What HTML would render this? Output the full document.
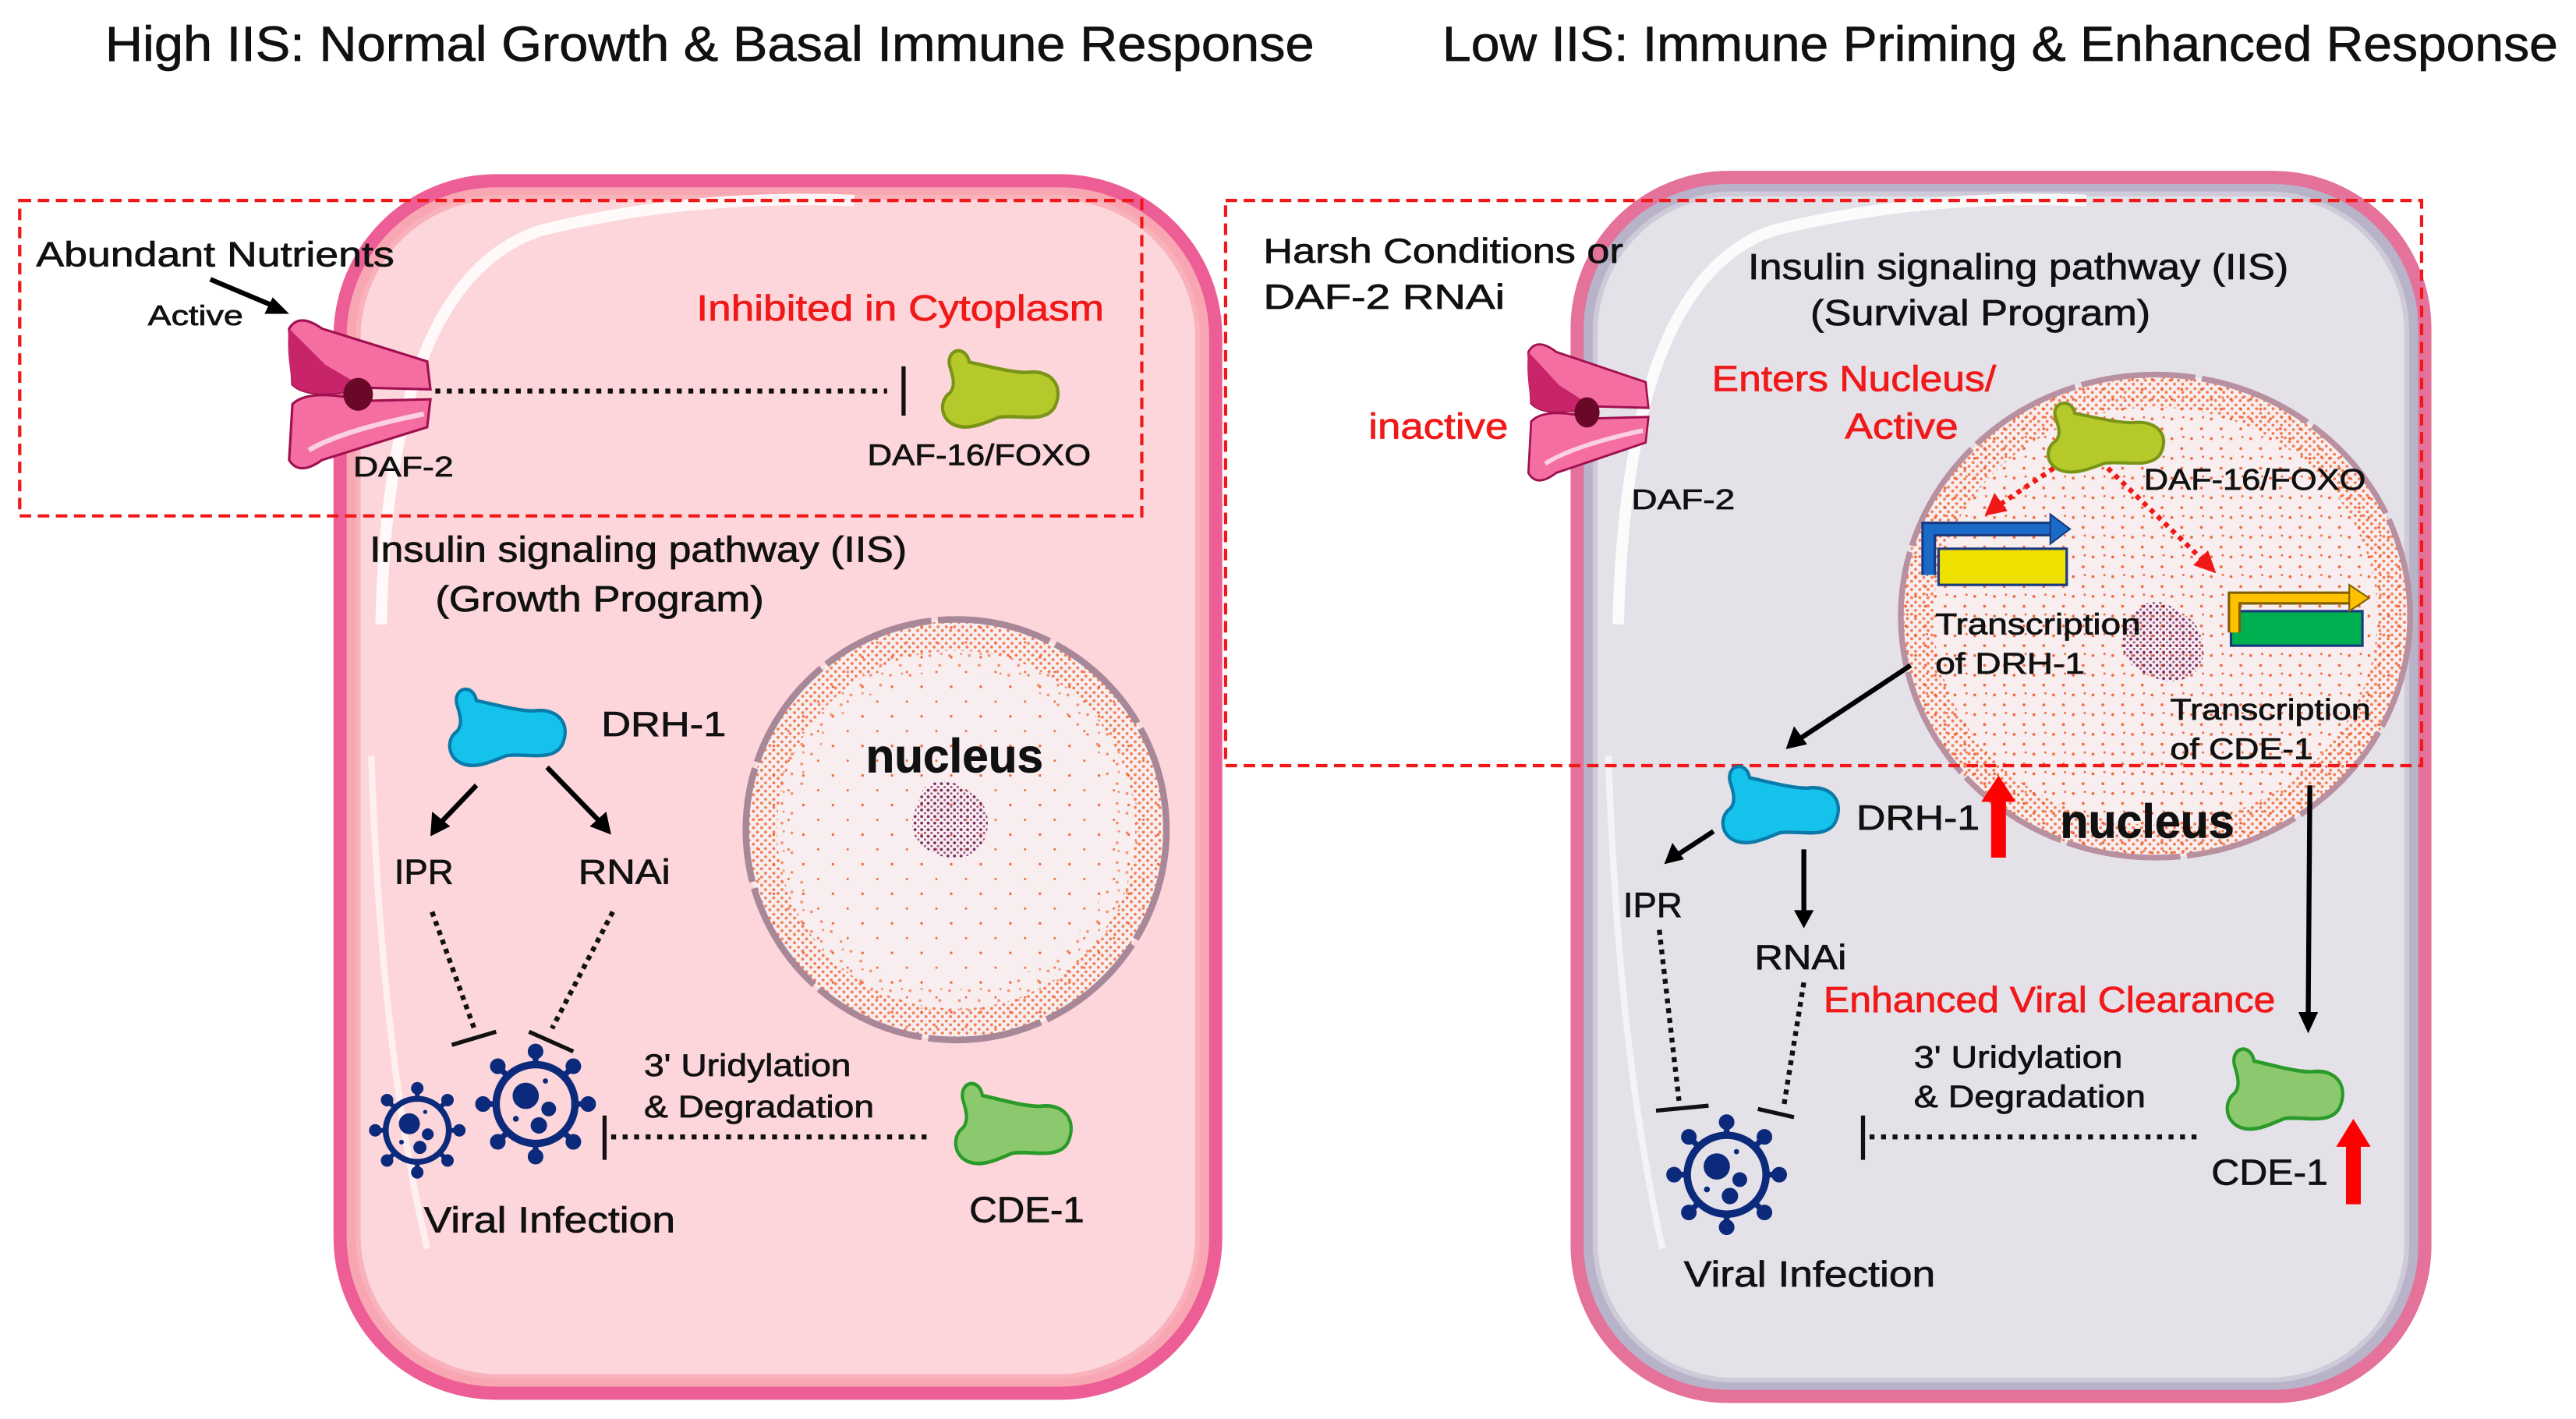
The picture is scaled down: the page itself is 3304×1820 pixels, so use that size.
<!DOCTYPE html>
<html><head><meta charset="utf-8"><style>
html,body{margin:0;padding:0;background:#fff}
svg{display:block}
text{font-family:"Liberation Sans","DejaVu Sans",sans-serif;fill:#111;stroke:#111;stroke-width:0.35}
</style></head><body>
<svg width="3304" height="1820" viewBox="0 0 1568 863.7" xmlns="http://www.w3.org/2000/svg">
<defs>
<pattern id="dots" width="12" height="12" patternUnits="userSpaceOnUse">
<circle cx="2" cy="3" r="0.9" fill="#f26a3a"/><circle cx="8" cy="9" r="0.9" fill="#f26a3a"/><circle cx="9" cy="2" r="0.7" fill="#f26a3a"/>
</pattern>
<pattern id="sparse" width="18" height="18" patternUnits="userSpaceOnUse">
<circle cx="3" cy="4" r="0.8" fill="#f26a3a"/><circle cx="12" cy="13" r="0.7" fill="#f26a3a"/>
</pattern>
<pattern id="dense" width="5" height="5" patternUnits="userSpaceOnUse">
<circle cx="1" cy="1.5" r="0.9" fill="#f0602a"/><circle cx="3.6" cy="3.8" r="0.9" fill="#f0602a"/>
</pattern>
<pattern id="pdots" width="4" height="4" patternUnits="userSpaceOnUse">
<circle cx="1" cy="1" r="0.9" fill="#7a2a60"/><circle cx="3" cy="3" r="0.7" fill="#9a4a80"/>
</pattern>
<g id="virus">
<circle r="24" fill="none" stroke="#0c2a7c" stroke-width="4.5"/>
<g stroke="#0c2a7c" stroke-width="3.5" fill="#0c2a7c">
<line x1="0" y1="-24" x2="0" y2="-31"/><circle cx="0" cy="-32" r="3"/>
<line x1="0" y1="24" x2="0" y2="31"/><circle cx="0" cy="32" r="3"/>
<line x1="-24" y1="0" x2="-31" y2="0"/><circle cx="-32" cy="0" r="3"/>
<line x1="24" y1="0" x2="31" y2="0"/><circle cx="32" cy="0" r="3"/>
<line x1="17" y1="17" x2="22" y2="22"/><circle cx="23" cy="23" r="3"/>
<line x1="-17" y1="17" x2="-22" y2="22"/><circle cx="-23" cy="23" r="3"/>
<line x1="17" y1="-17" x2="22" y2="-22"/><circle cx="23" cy="-23" r="3"/>
<line x1="-17" y1="-17" x2="-22" y2="-22"/><circle cx="-23" cy="-23" r="3"/>
</g>
<circle cx="-6" cy="-5" r="8" fill="#0c2a7c"/><circle cx="8" cy="3" r="4.5" fill="#0c2a7c"/><circle cx="2" cy="13" r="5" fill="#0c2a7c"/><circle cx="-12" cy="9" r="1.8" fill="#0c2a7c"/><circle cx="6" cy="-14" r="1.6" fill="#0c2a7c"/>
</g>
<g id="rec">
<path d="M-42,-40 Q-36,-50 -22,-40 L42,-20 L44,-3 L4,-4 Q-30,4 -40,-6 Z" fill="#f46ea2" stroke="#a01050" stroke-width="1.5"/>
<path d="M-42,-40 Q-44,-28 -40,-6 Q-30,4 4,-4 L-20,-18 Z" fill="#c8246a"/>
<path d="M-42,40 Q-36,50 -22,40 L42,20 L44,3 L4,4 Q-30,-4 -40,6 Z" fill="#f46ea2" stroke="#a01050" stroke-width="1.5"/>
<path d="M-30,34 Q-10,22 40,12" fill="none" stroke="#fbd0e0" stroke-width="3"/>
<ellipse cx="0" cy="0" rx="9" ry="10" fill="#6a0828"/>
</g>
<path id="blob" d="M8,10 C6,0 18,-2 20,8 C30,10 45,14 55,14 C70,12 78,22 72,34 C66,44 48,38 38,40 C28,44 18,48 10,44 C2,40 2,30 8,26 C12,22 10,16 8,10 Z"/>
</defs>

<text x="64" y="37" font-size="30" textLength="736" lengthAdjust="spacingAndGlyphs">High IIS: Normal Growth &amp; Basal Immune Response</text>
<text x="878" y="37" font-size="30" textLength="679" lengthAdjust="spacingAndGlyphs">Low IIS: Immune Priming &amp; Enhanced Response</text>

<!-- LEFT CELL -->
<rect x="207" y="110" width="533" height="738" rx="95" fill="#f8a7b2" stroke="#ee5e96" stroke-width="8"/>
<rect x="218" y="120" width="511" height="718" rx="86" fill="#fcd6da" stroke="#f9b2bc" stroke-width="3"/>
<path d="M232,380 Q236,170 330,140 Q420,118 520,122" fill="none" stroke="#fff" stroke-width="7" opacity="0.85"/>
<path d="M226,460 Q232,640 260,760" fill="none" stroke="#fff" stroke-width="4" opacity="0.6"/>

<rect x="12" y="122" width="683" height="192" fill="none" stroke="#f01818" stroke-width="2" stroke-dasharray="7,4"/>
<text x="22" y="162" font-size="21" textLength="218" lengthAdjust="spacingAndGlyphs">Abundant Nutrients</text>
<text x="90" y="198" font-size="17" textLength="58" lengthAdjust="spacingAndGlyphs">Active</text>
<line x1="128" y1="170" x2="166" y2="186" stroke="#000" stroke-width="3"/>
<polygon points="176,191 161,191 166,181" fill="#000"/>
<use href="#rec" transform="translate(218,240)"/>
<text x="215" y="290" font-size="17" textLength="61" lengthAdjust="spacingAndGlyphs">DAF-2</text>
<line x1="265" y1="238" x2="540" y2="238" stroke="#111" stroke-width="3" stroke-dasharray="3,4"/>
<line x1="550" y1="223" x2="550" y2="253" stroke="#111" stroke-width="2.5"/>
<use href="#blob" transform="translate(570,212) scale(1,1.05)" fill="#b5c92a" stroke="#7a9418" stroke-width="2"/>
<text x="528" y="283" font-size="18" textLength="136" lengthAdjust="spacingAndGlyphs">DAF-16/FOXO</text>
<text x="424" y="195" font-size="22" style="fill:#f01818;stroke:#f01818" textLength="248" lengthAdjust="spacingAndGlyphs">Inhibited in Cytoplasm</text>
<text x="225" y="342" font-size="22" textLength="327" lengthAdjust="spacingAndGlyphs">Insulin signaling pathway (IIS)</text>
<text x="265" y="372" font-size="22" textLength="200" lengthAdjust="spacingAndGlyphs">(Growth Program)</text>

<!-- left nucleus -->
<circle cx="582" cy="505" r="128" fill="#f8eef0"/>
<circle cx="582" cy="505" r="128" fill="url(#sparse)"/>
<circle cx="582" cy="505" r="118" fill="none" stroke="url(#dense)" stroke-width="18" opacity="0.8"/>
<circle cx="582" cy="505" r="104" fill="none" stroke="url(#dots)" stroke-width="14" opacity="0.7"/>
<circle cx="582" cy="505" r="128" fill="none" stroke="#a88898" stroke-width="4" stroke-dasharray="70,4"/>
<path d="M562,480 Q575,470 590,482 Q605,490 600,510 Q590,528 570,520 Q552,512 556,496 Z" fill="url(#pdots)"/>
<text x="527" y="470" font-size="29" font-weight="bold" textLength="108" lengthAdjust="spacingAndGlyphs">nucleus</text>

<use href="#blob" transform="translate(270,418) scale(1,1.05)" fill="#14c2ec" stroke="#0a7aa8" stroke-width="2"/>
<text x="366" y="448" font-size="21" textLength="76" lengthAdjust="spacingAndGlyphs">DRH-1</text>
<line x1="290" y1="478" x2="268" y2="501" stroke="#000" stroke-width="3"/>
<polygon points="262,509 263,494 274,503" fill="#000"/>
<line x1="333" y1="467" x2="365" y2="500" stroke="#000" stroke-width="3"/>
<polygon points="372,508 359,503 369,494" fill="#000"/>
<text x="240" y="538" font-size="21" textLength="36" lengthAdjust="spacingAndGlyphs">IPR</text>
<text x="352" y="538" font-size="21" textLength="56" lengthAdjust="spacingAndGlyphs">RNAi</text>
<line x1="263" y1="555" x2="289" y2="627" stroke="#111" stroke-width="3" stroke-dasharray="3,3"/>
<line x1="275" y1="636" x2="302" y2="628" stroke="#111" stroke-width="2.5"/>
<line x1="373" y1="555" x2="336" y2="626" stroke="#111" stroke-width="3" stroke-dasharray="3,3"/>
<line x1="322" y1="628" x2="349" y2="640" stroke="#111" stroke-width="2.5"/>
<use href="#virus" transform="translate(254,688) scale(0.8)"/>
<use href="#virus" transform="translate(326,672)"/>
<text x="258" y="750" font-size="22" textLength="153" lengthAdjust="spacingAndGlyphs">Viral Infection</text>
<text x="392" y="655" font-size="19" textLength="126" lengthAdjust="spacingAndGlyphs">3' Uridylation</text>
<text x="392" y="680" font-size="19" textLength="140" lengthAdjust="spacingAndGlyphs">&amp; Degradation</text>
<line x1="372" y1="692" x2="566" y2="692" stroke="#111" stroke-width="3" stroke-dasharray="3,4"/>
<line x1="368" y1="679" x2="368" y2="706" stroke="#111" stroke-width="2.5"/>
<use href="#blob" transform="translate(578,658) scale(1,1.1)" fill="#8cc86e" stroke="#2a9a2a" stroke-width="2"/>
<text x="590" y="744" font-size="22" textLength="70" lengthAdjust="spacingAndGlyphs">CDE-1</text>

<!-- RIGHT CELL -->
<rect x="960" y="108" width="516" height="742" rx="92" fill="#b8b3c8" stroke="#e4729a" stroke-width="8"/>
<rect x="971" y="118" width="494" height="722" rx="84" fill="#e4e1e8" stroke="#cfcad8" stroke-width="3"/>
<path d="M985,380 Q990,170 1080,140 Q1170,118 1270,122" fill="none" stroke="#fff" stroke-width="7" opacity="0.85"/>
<path d="M979,460 Q985,640 1012,760" fill="none" stroke="#fff" stroke-width="4" opacity="0.6"/>

<text x="769" y="160" font-size="21" textLength="219" lengthAdjust="spacingAndGlyphs">Harsh Conditions or</text>
<text x="769" y="188" font-size="21" textLength="147" lengthAdjust="spacingAndGlyphs">DAF-2 RNAi</text>
<text x="1064" y="170" font-size="22" textLength="329" lengthAdjust="spacingAndGlyphs">Insulin signaling pathway (IIS)</text>
<text x="1102" y="198" font-size="22" textLength="207" lengthAdjust="spacingAndGlyphs">(Survival Program)</text>
<use href="#rec" transform="translate(966,251) scale(0.85,0.92)"/>
<text x="993" y="310" font-size="17" textLength="63" lengthAdjust="spacingAndGlyphs">DAF-2</text>
<text x="833" y="267" font-size="22" style="fill:#f01818;stroke:#f01818" textLength="85" lengthAdjust="spacingAndGlyphs">inactive</text>
<text x="1042" y="238" font-size="22" style="fill:#f01818;stroke:#f01818" textLength="173" lengthAdjust="spacingAndGlyphs">Enters Nucleus/</text>
<text x="1123" y="267" font-size="22" style="fill:#f01818;stroke:#f01818" textLength="69" lengthAdjust="spacingAndGlyphs">Active</text>

<!-- right nucleus -->
<ellipse cx="1312" cy="375" rx="155" ry="147" fill="#f8eef0"/>
<ellipse cx="1312" cy="375" rx="155" ry="147" fill="url(#dots)"/>
<ellipse cx="1312" cy="375" rx="145" ry="137" fill="none" stroke="url(#dense)" stroke-width="20" opacity="0.8"/>
<ellipse cx="1312" cy="375" rx="155" ry="147" fill="none" stroke="#b890a0" stroke-width="3.5" stroke-dasharray="70,4"/>
<path d="M1300,372 Q1312,360 1325,372 Q1345,380 1340,405 Q1328,420 1310,412 Q1290,405 1292,388 Z" fill="url(#pdots)"/>
<text x="1254" y="510" font-size="29" font-weight="bold" textLength="106" lengthAdjust="spacingAndGlyphs">nucleus</text>

<rect x="746" y="122" width="728" height="344" fill="none" stroke="#f01818" stroke-width="2" stroke-dasharray="7,4"/>

<use href="#blob" transform="translate(1243,244) scale(1,0.95)" fill="#b5c92a" stroke="#7a9418" stroke-width="2"/>
<text x="1305" y="298" font-size="18" textLength="135" lengthAdjust="spacingAndGlyphs">DAF-16/FOXO</text>
<line x1="1250" y1="285" x2="1216" y2="308" stroke="#f01818" stroke-width="3" stroke-dasharray="3,3"/>
<polygon points="1208,314 1214,300 1222,311" fill="#f01818"/>
<line x1="1283" y1="285" x2="1342" y2="342" stroke="#f01818" stroke-width="3" stroke-dasharray="3,3"/>
<polygon points="1349,349 1335,344 1344,335" fill="#f01818"/>

<rect x="1180" y="334" width="78" height="22" fill="#eee000" stroke="#1a3a80" stroke-width="1.5"/>
<path d="M1174,350 L1174,322 L1250,322" fill="none" stroke="#1a3a80" stroke-width="9"/>
<path d="M1174,350 L1174,322 L1250,322" fill="none" stroke="#1a6ac8" stroke-width="6"/>
<polygon points="1248,313 1260,322 1248,331" fill="#1a6ac8" stroke="#1a3a80" stroke-width="1"/>
<rect x="1358" y="372" width="80" height="21" fill="#00b050" stroke="#1a3a80" stroke-width="1.5"/>
<path d="M1360,385 L1360,364 L1432,364" fill="none" stroke="#806000" stroke-width="8"/>
<path d="M1360,385 L1360,364 L1432,364" fill="none" stroke="#ffc000" stroke-width="5"/>
<polygon points="1430,356 1442,364 1430,372" fill="#ffc000" stroke="#806000" stroke-width="1"/>
<text x="1178" y="386" font-size="18" textLength="125" lengthAdjust="spacingAndGlyphs">Transcription</text>
<text x="1178" y="410" font-size="18" textLength="91" lengthAdjust="spacingAndGlyphs">of DRH-1</text>
<text x="1321" y="438" font-size="18" textLength="122" lengthAdjust="spacingAndGlyphs">Transcription</text>
<text x="1321" y="462" font-size="18" textLength="87" lengthAdjust="spacingAndGlyphs">of CDE-1</text>

<line x1="1163" y1="405" x2="1095" y2="450" stroke="#000" stroke-width="3"/>
<polygon points="1087,456 1092,442 1100,453" fill="#000"/>
<use href="#blob" transform="translate(1045,465) scale(1,1.05)" fill="#14c2ec" stroke="#0a7aa8" stroke-width="2"/>
<text x="1130" y="505" font-size="21" textLength="75" lengthAdjust="spacingAndGlyphs">DRH-1</text>
<rect x="1212" y="486" width="9" height="36" fill="#f00"/>
<polygon points="1206,488 1216.5,472 1227,488" fill="#f00"/>
<line x1="1043" y1="506" x2="1020" y2="521" stroke="#000" stroke-width="3"/>
<polygon points="1013,526 1018,513 1025,523" fill="#000"/>
<line x1="1098" y1="517" x2="1098" y2="555" stroke="#000" stroke-width="3"/>
<polygon points="1092,554 1104,554 1098,565" fill="#000"/>
<text x="988" y="558" font-size="21" textLength="36" lengthAdjust="spacingAndGlyphs">IPR</text>
<text x="1068" y="590" font-size="21" textLength="56" lengthAdjust="spacingAndGlyphs">RNAi</text>
<line x1="1010" y1="566" x2="1022" y2="670" stroke="#111" stroke-width="3" stroke-dasharray="3,3"/>
<line x1="1008" y1="676" x2="1040" y2="673" stroke="#111" stroke-width="2.5"/>
<line x1="1098" y1="598" x2="1086" y2="672" stroke="#111" stroke-width="3" stroke-dasharray="3,3"/>
<line x1="1070" y1="675" x2="1092" y2="680" stroke="#111" stroke-width="2.5"/>
<text x="1110" y="616" font-size="22" style="fill:#f01818;stroke:#f01818" textLength="275" lengthAdjust="spacingAndGlyphs">Enhanced Viral Clearance</text>
<text x="1165" y="650" font-size="19" textLength="127" lengthAdjust="spacingAndGlyphs">3' Uridylation</text>
<text x="1165" y="674" font-size="19" textLength="141" lengthAdjust="spacingAndGlyphs">&amp; Degradation</text>
<line x1="1138" y1="692" x2="1337" y2="692" stroke="#111" stroke-width="3" stroke-dasharray="3,4"/>
<line x1="1134" y1="679" x2="1134" y2="706" stroke="#111" stroke-width="2.5"/>
<line x1="1406" y1="478" x2="1405" y2="618" stroke="#000" stroke-width="3"/>
<polygon points="1399,616 1411,616 1405,629" fill="#000"/>
<use href="#blob" transform="translate(1352,637) scale(1,1.1)" fill="#8cc86e" stroke="#2a9a2a" stroke-width="2"/>
<text x="1346" y="721" font-size="22" textLength="71" lengthAdjust="spacingAndGlyphs">CDE-1</text>
<rect x="1428" y="696" width="9" height="37" fill="#f00"/>
<polygon points="1422,698 1432.5,681 1443,698" fill="#f00"/>
<use href="#virus" transform="translate(1051,715)"/>
<text x="1025" y="783" font-size="22" textLength="153" lengthAdjust="spacingAndGlyphs">Viral Infection</text>
</svg>
</body></html>
